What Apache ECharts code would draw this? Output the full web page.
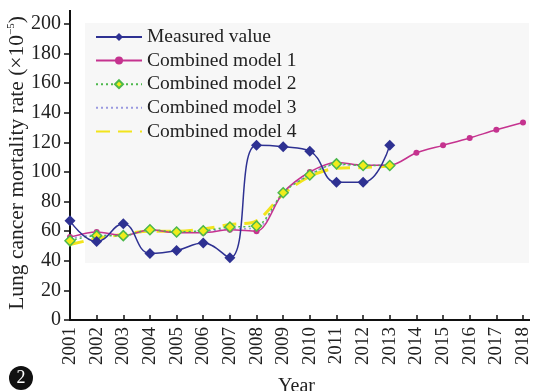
<!DOCTYPE html>
<html><head><meta charset="utf-8">
<script src="https://cdn.jsdelivr.net/npm/echarts@6/dist/echarts.min.js"></script>
<style>html,body{margin:0;padding:0;background:#fff}#c{width:536px;height:391px}</style>
</head><body><div id="c"></div>
<script>
const years = ['2001','2002','2003','2004','2005','2006','2007','2008','2009','2010','2011','2012','2013','2014','2015','2016','2017','2018'];
const measured = [67, 53, 65, 45, 47, 52, 42, 118, 117, 114, 93, 93, 118];
const model1 = [56, 59.5, 57, 61, 59, 59, 61, 60, 86, 100, 106.5, 104.5, 104.5, 113, 118, 123, 128.5, 133.5];
const model2 = [53.5, 57, 57, 61, 59.5, 60.3, 62.8, 63.5, 86, 98, 105.5, 104.4, 104.4];
const model3 = [55, 57.5, 57, 60.5, 59.5, 60, 61.5, 62, 86, 98.5, 105, 104.5, 104.5];
const model4 = [51, 55, 58, 60, 60, 61.5, 64.5, 67, 85, 97, 102.5, 103, 104];
const names = ['Measured value','Combined model 1','Combined model 2','Combined model 3','Combined model 4'];
const F = 'Liberation Serif, Times New Roman, serif';
const chart = echarts.init(document.getElementById('c'));
chart.setOption({
  animation: false,
  textStyle: {fontFamily: F},
  grid: {left: 70, right: 13, top: 24, bottom: 71, containLabel: false, outerBoundsMode: 'none'},
  graphic: [
    {type: 'rect', shape: {x: 85, y: 23, width: 444, height: 240}, style: {fill: '#f7f7f7'}, z: -10},
    {type: 'line', shape: {x1: 70, y1: 24, x2: 70, y2: 10}, style: {stroke: '#111', lineWidth: 2}},
    {type: 'line', shape: {x1: 523, y1: 320, x2: 530, y2: 320}, style: {stroke: '#111', lineWidth: 2}},
    {type: 'circle', shape: {cx: 21, cy: 378, r: 12}, style: {fill: '#111'}},
    {type: 'text', x: 21, y: 378, style: {text: '2', fill: '#fff', font: '18px ' + F, align: 'center', verticalAlign: 'middle'}}
  ],
  legend: {
    orient: 'vertical', left: 90, top: 22, itemWidth: 46, itemHeight: 10, itemGap: 3.6,
    textStyle: {fontFamily: F, fontSize: 19.5, lineHeight: 19, color: '#222'},
    data: [
      {name: names[0]}, {name: names[1]}, {name: names[2]},
      {name: names[3], itemStyle: {opacity: 0}},
      {name: names[4], itemStyle: {opacity: 0}}
    ]
  },
  xAxis: {
    type: 'category', data: years, boundaryGap: false,
    name: 'Year', nameLocation: 'middle', nameGap: 57,
    nameTextStyle: {fontFamily: F, fontSize: 20, color: '#222'},
    axisLine: {lineStyle: {color: '#111', width: 2}},
    axisTick: {inside: true, length: 5, lineStyle: {color: '#111', width: 1.5}, alignWithLabel: true},
    axisLabel: {rotate: 90, fontFamily: F, fontSize: 19, color: '#222', margin: 7, interval: 0},
    splitLine: {show: false}
  },
  yAxis: {
    type: 'value', min: 0, max: 200, interval: 20,
    name: '{a|Lung cancer mortality rate (×10}{s|−5}{a|)}', nameLocation: 'middle', nameGap: 42, nameMoveOverlap: false,
    nameTextStyle: {padding: [0, 0, 0, 18], rich: {a: {fontFamily: F, fontSize: 21.5, color: '#222'}, s: {fontFamily: F, fontSize: 11, color: '#222', verticalAlign: 'top', padding: [0,0,10,0]}}},
    axisLine: {show: true, lineStyle: {color: '#111', width: 2}},
    axisTick: {show: true, length: 6, lineStyle: {color: '#111', width: 1.5}},
    axisLabel: {fontFamily: F, fontSize: 20, color: '#222', margin: 9},
    splitLine: {show: false}
  },
  series: [
    {name: names[0], type: 'line', data: measured, smooth: 0.45, symbol: 'diamond', symbolSize: 11, z: 5,
     lineStyle: {color: '#2e3192', width: 1.5}, itemStyle: {color: '#2e3192'}},
    {name: names[4], type: 'line', data: model4, smooth: 0.3, symbol: 'none', z: 2,
     lineStyle: {color: '#f2e41c', width: 3, type: [14, 8]}, itemStyle: {color: '#f2e41c'}},
    {name: names[3], type: 'line', data: model3, smooth: 0.3, symbol: 'none', z: 2,
     lineStyle: {color: '#9a9ae0', width: 1.5, type: [2, 3]}, itemStyle: {color: '#9a9ae0'}},
    {name: names[1], type: 'line', data: model1, smooth: 0.3, symbol: 'circle', symbolSize: 6, z: 3,
     lineStyle: {color: '#c5338f', width: 1.5}, itemStyle: {color: '#c5338f'}},
    {name: names[2], type: 'line', data: model2, smooth: 0.3, symbol: 'diamond', symbolSize: 10, z: 4,
     lineStyle: {color: '#4cb84c', width: 1.5, type: [2, 3]}, itemStyle: {color: '#f0ec1a', borderColor: '#4cb84c', borderWidth: 1.5}}
  ]
});
</script></body></html>
